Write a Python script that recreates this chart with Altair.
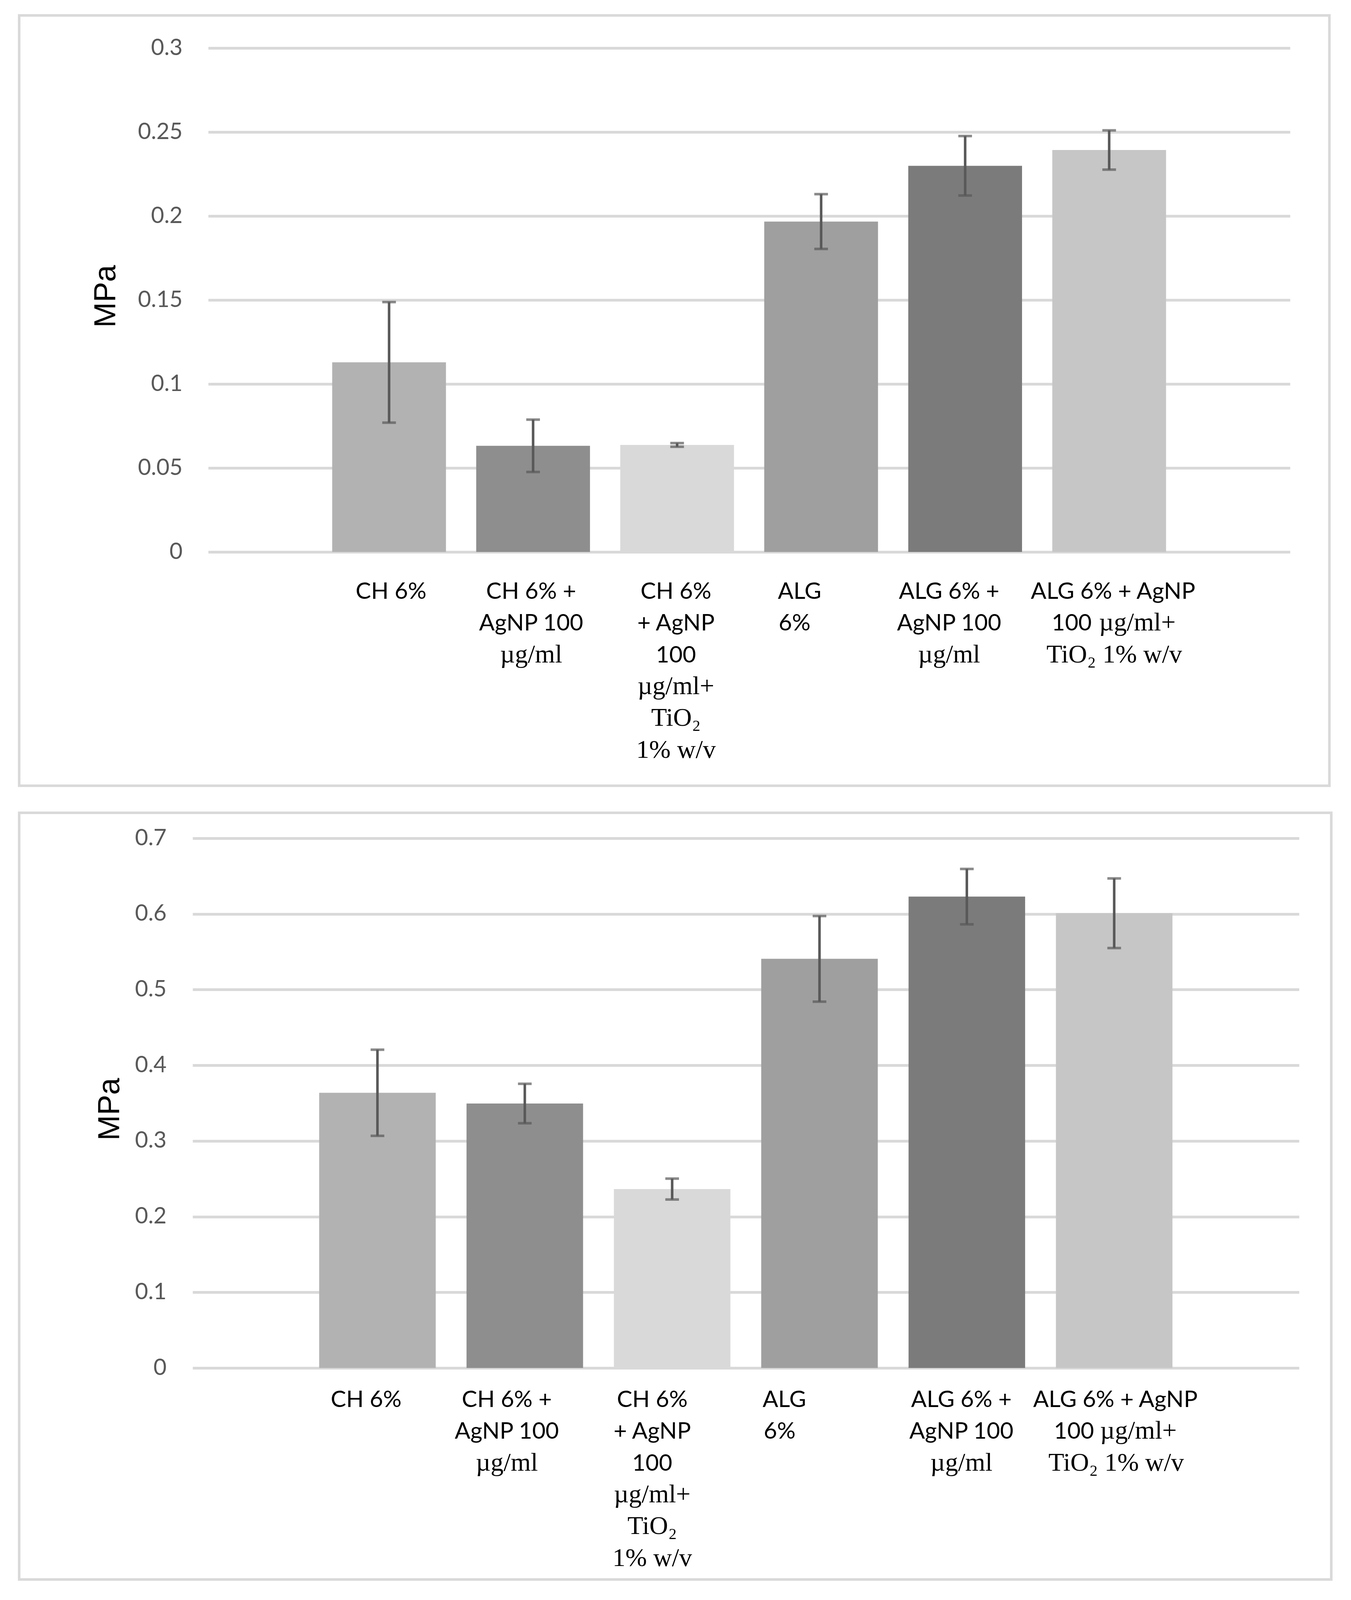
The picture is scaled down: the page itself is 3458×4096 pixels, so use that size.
import altair as alt
import pandas as pd

# ---------------- data ----------------
categories = [
    "CH 6%",
    "CH 6% + AgNP 100 µg/ml",
    "CH 6% + AgNP 100 µg/ml+ TiO2 1% w/v",
    "ALG 6%",
    "ALG 6% + AgNP 100 µg/ml",
    "ALG 6% + AgNP 100 µg/ml+ TiO2 1% w/v",
]

top_mean = [0.1129, 0.0632, 0.0637, 0.1967, 0.2299, 0.2393]
top_sd = [0.0359, 0.0156, 0.0011, 0.0163, 0.0177, 0.0117]

bottom_mean = [0.3637, 0.3495, 0.2364, 0.5407, 0.6229, 0.6009]
bottom_sd = [0.0569, 0.0261, 0.0138, 0.0566, 0.0366, 0.0460]

top_ticks = [0, 0.05, 0.1, 0.15, 0.2, 0.25, 0.3]
bottom_ticks = [0, 0.1, 0.2, 0.3, 0.4, 0.5, 0.6, 0.7]

y_title = "MPa"

# category label lines: each line is a list of (text, font kind)
label_lines = [
    [[("CH 6%", "sans")]],
    [[("CH 6% +", "sans")], [("AgNP 100", "sans")], [("µg/ml", "serif")]],
    [[("CH 6%", "sans")], [("+ AgNP", "sans")], [("100", "sans")],
     [("µg/ml+", "serif")], [("TiO₂", "serif")], [("1% w/v", "serif")]],
    [[("ALG", "sans")], [("6%", "sans")]],
    [[("ALG 6% +", "sans")], [("AgNP 100", "sans")], [("µg/ml", "serif")]],
    [[("ALG 6% + AgNP", "sans")], [("100", "sans"), ("µg/ml+", "serif")],
     [("TiO₂ 1% w/v", "serif")]],
]

# ---------------- style ----------------
bar_colors = ["#b2b2b2", "#8e8e8e", "#d9d9d9", "#9f9f9f", "#7b7b7b", "#c6c6c6"]
GRID = "#d9d9d9"
ERR = "#595959"
SANS = "Lato"
SERIF = "Liberation Serif"
LINE_H = 81.3

# horizontal nudges of label pieces (px), per category / line / piece
top_nudges = [
    [[5]],
    [[-5], [-5], [-5]],
    [[-3]] * 6,
    [[-55], [-68]],
    [[-41], [-41], [-41]],
    [[10], [-96, 72], [13]],
]
bottom_nudges = [
    [[-29]],
    [[-46]] * 3,
    [[-51]] * 6,
    [[-90], [-102]],
    [[-14]] * 3,
    [[3], [-103, 62], [5]],
]


def panel(mean, sd, ticks, ymax, W, H, x0, pi, po, frame, label_pad,
          title_x, title_y, label_y0, nudges):
    df = pd.DataFrame({
        "cat": categories,
        "v": mean,
        "lo": [m - s for m, s in zip(mean, sd)],
        "hi": [m + s for m, s in zip(mean, sd)],
        "color": bar_colors,
    })
    step = (W - x0) / (len(categories) - pi + 2 * po)
    half_band = step * (1 - pi) / 2

    rows = []
    for ci, cat in enumerate(categories):
        for li, line in enumerate(label_lines[ci]):
            for si, (t, kind) in enumerate(line):
                rows.append({"cat": cat, "t": t, "kind": kind,
                             "dx": half_band + nudges[ci][li][si],
                             "dy": li * LINE_H})
    lab = pd.DataFrame(rows)

    xenc = alt.X("cat:N", sort=categories,
                 scale=alt.Scale(range=[x0, W], paddingInner=pi,
                                 paddingOuter=po),
                 axis=None)
    yscale = alt.Scale(domain=[0, ymax], nice=False, zero=True)
    yaxis = alt.Axis(
        values=ticks, format="~g", title=y_title,
        titleFont="Liberation Sans", titleFontSize=78,
        titleFontWeight="normal", titleColor="#000000",
        titleX=-title_x, titleY=title_y, titleAlign="center",
        titleBaseline="alphabetic",
        labelFont=SANS, labelFontSize=58, labelColor="#595959",
        labelPadding=label_pad, domain=False, ticks=False, tickSize=0,
        grid=True, gridColor=GRID, gridWidth=7)

    base = alt.Chart(df)
    bars = base.mark_bar().encode(
        x=xenc,
        y=alt.Y("v:Q", scale=yscale, axis=yaxis),
        color=alt.Color("color:N", scale=None),
    )
    rules = base.mark_rule(color=ERR, strokeWidth=6.5).encode(
        x=xenc, y=alt.Y("lo:Q", scale=yscale, axis=yaxis), y2="hi:Q")
    cap_lo = base.mark_tick(color=ERR, thickness=6.5, size=35,
                            orient="horizontal").encode(
        x=xenc, y=alt.Y("lo:Q", scale=yscale, axis=yaxis))
    cap_hi = base.mark_tick(color=ERR, thickness=6.5, size=35,
                            orient="horizontal").encode(
        x=xenc, y=alt.Y("hi:Q", scale=yscale, axis=yaxis))

    def text_layer(kind, font, size):
        return alt.Chart(lab).transform_filter(
            alt.datum.kind == kind
        ).mark_text(font=font, fontSize=size, color="#000000",
                    align="center", baseline="alphabetic").encode(
            x=xenc,
            xOffset=alt.XOffset("dx:Q", scale=None),
            y=alt.value(H + label_y0),
            yOffset=alt.YOffset("dy:Q", scale=None),
            text="t:N",
        )

    fl, fr, ft, fb = frame
    border = alt.Chart(pd.DataFrame({"k": [0]})).mark_rect(
        filled=False, stroke=GRID, strokeWidth=6.5).encode(
        x=alt.value(-fl), x2=alt.value(W + fr),
        y=alt.value(-ft), y2=alt.value(H + fb))

    return alt.layer(border, bars, rules, cap_lo, cap_hi,
                     text_layer("sans", SANS, 59),
                     text_layer("serif", SERIF, 66)).properties(
        width=W, height=H)


top = panel(top_mean, top_sd, top_ticks, 0.3, 2809, 1290, 39.9, 0.21, 0.861,
            (443.9, 100.7, 83.4, 598.6), 26, 198.6, 635, 120, top_nudges)
bottom = panel(bottom_mean, bottom_sd, bottom_ticks, 0.7, 2832, 1356, 0,
               0.209, 0.859, (443.9, 82.5, 65.3, 541.5), 67, 189, 693, 100,
               bottom_nudges)

chart = alt.vconcat(top, bottom).properties(
    spacing=62,
    padding={"left": 37, "top": 28, "right": 10, "bottom": 10},
    background="#ffffff",
).configure_view(strokeWidth=0)

chart.save("out.html", embed_options={"renderer": "svg", "actions": False})
